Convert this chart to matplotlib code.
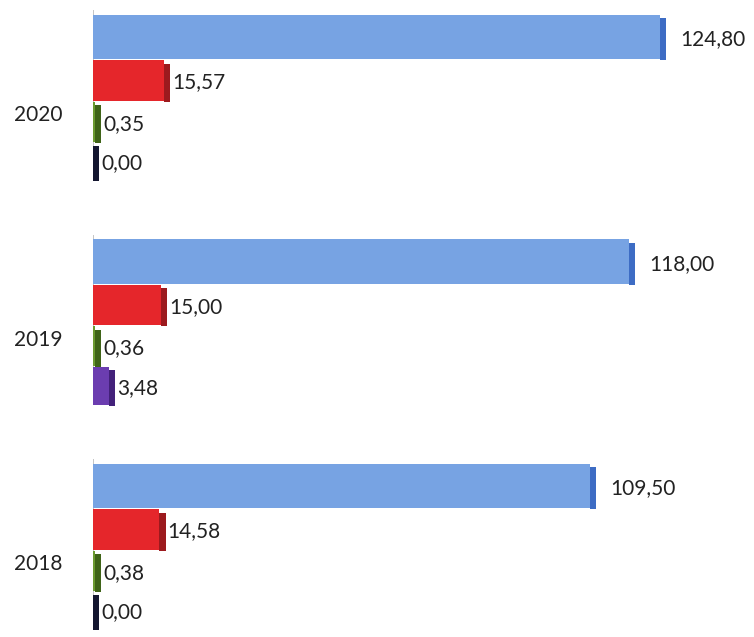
import matplotlib
matplotlib.use("Agg")
import matplotlib.pyplot as plt
import numpy as np

years = ["2018", "2019", "2020"]
series_a = [109.50, 118.00, 124.80]   # blue
series_b = [14.58, 15.00, 15.57]      # red
series_c = [0.38, 0.36, 0.35]         # green
series_d = [0.00, 3.48, 0.00]         # dark / purple

plt.rcParams['font.family'] = ['Lato', 'DejaVu Sans']

fig = plt.figure(figsize=(7.54, 6.37), dpi=100)
ax = fig.add_axes([93/754, 0, 1 - 93/754, 1])

px_per_unit = 4.54
ax.set_xlim(0, (754 - 93) / px_per_unit)
ax.set_ylim(-(637 - 562) / 224.5, 2 + 113 / 224.5)

ypos = np.arange(len(years))
h = 0.1875
offsets = [0.338, 0.145, -0.040, -0.215]
heights = [h * 1.06, h * 0.97, h * 0.95, h * 0.9]
front = [
    ["#77a3e3"] * 3,
    ["#e5262b"] * 3,
    ["#6b9a30"] * 3,
    ["#23264a", "#6b3db0", "#23264a"],
]
side = [
    ["#3d6cc4"] * 3,
    ["#9c1a1e"] * 3,
    ["#3f6418"] * 3,
    ["#141630", "#43217a", "#141630"],
]
all_series = [series_a, series_b, series_c, series_d]
depth = 1.4

for k, vals in enumerate(all_series):
    yy = ypos + offsets[k]
    ax.barh(yy, vals, height=heights[k], color=front[k], edgecolor="none", zorder=2)
    ax.barh(yy - 0.01, [depth] * len(vals), left=vals, height=heights[k] * 0.94,
            color=side[k], edgecolor="none", zorder=2)
    for i, v in enumerate(vals):
        gap = 14 if k == 0 else 2
        ax.annotate(f"{v:.2f}".replace(".", ","), (v + depth, yy[i]),
                    xytext=(gap, -2), textcoords="offset pixels",
                    ha="left", va="center", fontsize=15, color="#222222",
                    annotation_clip=False)

# faint left wall per group
for y in ypos:
    ax.vlines(0, y - 0.215 - h * 0.45, y + 0.338 + h * 0.53 + 0.02,
              color="#bbbbbb", lw=1.2, zorder=1)

ax.set_yticks(ypos)
ax.set_yticklabels(years, fontsize=15, color="#222222")
ax.tick_params(axis="y", length=0, pad=22)
ax.set_xticks([])
for s in ax.spines.values():
    s.set_visible(False)

fig.savefig("out.png", dpi=100)
